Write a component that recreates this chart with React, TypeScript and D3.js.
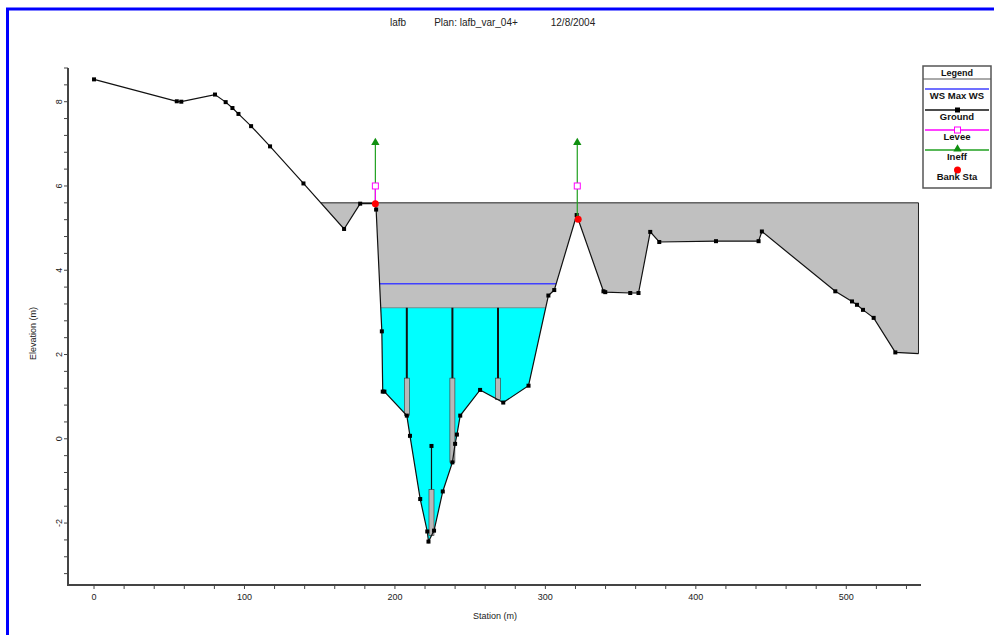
import React, { useEffect, useRef } from 'react';
import * as d3 from 'd3';

// ground survey points (station m, elevation m)
const groundStations = [0, 55, 58, 80.4, 87.5, 92, 96, 104.4, 117, 139.2, 166.2, 176.9, 187, 187.5, 191.3, 191.9, 193, 207.9, 210, 216.8, 221.5, 222.3, 226, 231.8, 238.2, 240, 241.2, 243.4, 256.6, 272, 288.8, 302, 305.9, 320.8, 338.6, 339.8, 356.4, 361.9, 369.7, 375.7, 413.4, 441.7, 443.9, 492.7, 503.8, 507.1, 511.1, 518.2, 532.6, 548];
const groundElevations = [8.53, 8.01, 8.0, 8.17, 7.99, 7.85, 7.71, 7.42, 6.94, 6.06, 4.98, 5.58, 5.58, 5.44, 2.55, 1.12, 1.12, 0.55, 0.07, -1.43, -2.2, -2.44, -2.18, -1.25, -0.56, -0.12, 0.1, 0.55, 1.16, 0.86, 1.26, 3.4, 3.53, 5.31, 3.5, 3.48, 3.46, 3.46, 4.91, 4.67, 4.69, 4.69, 4.92, 3.5, 3.26, 3.18, 3.06, 2.87, 2.05, 2.02];

const bankStations = [187, 321.8];
const leveeStations = [187, 321.2];
const leveeElevations = [6.0, 6.0];
const ineffStations = [187, 321.2];
const ineffElevations = [7.03, 7.03];

const grayLevel = 5.6;
const wsLevel = 3.11;
const maxWsLevel = 3.68;

// vertical subdivision lines inside the wetted area
const divStations = [207.9, 224.3, 238.2, 268.5];
const divTops = [3.11, -0.17, 3.11, 3.11];
const divBreaks = [1.44, -1.2, 1.44, 1.44];

const xTickLabels = [0, 100, 200, 300, 400, 500];
const yTickLabels = [-2, 0, 2, 4, 6, 8];
const xMinorTicks = d3.range(0, 549, 20);
const yMinorTicks = d3.range(-3.2, 8.81, 0.4);

const legendItems = ['WS Max WS', 'Ground', 'Levee', 'Ineff', 'Bank Sta'];

const font = 'Arial, "Liberation Sans", sans-serif';

const App: React.FC = () => {
  const width = 994;
  const height = 635;
  const svgRef = useRef<SVGSVGElement>(null);

  useEffect(() => {
    if (!svgRef.current) return;
    const svg = d3.select(svgRef.current);
    svg.selectAll('*').remove();

    const x = d3.scaleLinear().domain([-17.3, 549]).range([68, 920]);
    const y = d3.scaleLinear().domain([-3.47, 8.8]).range([585, 68]);

    const n = groundStations.length;
    const groundAt = (s: number) => {
      for (let i = 0; i < n - 1; i++) {
        const s1 = groundStations[i], s2 = groundStations[i + 1];
        if (s >= s1 && s <= s2) {
          if (s2 === s1) return groundElevations[i];
          return groundElevations[i] + (s - s1) / (s2 - s1) * (groundElevations[i + 1] - groundElevations[i]);
        }
      }
      return groundElevations[n - 1];
    };
    const crossAfter = (level: number, s0: number) => {
      for (let i = 0; i < n - 1; i++) {
        if (groundStations[i + 1] < s0) continue;
        const a = groundElevations[i] - level;
        const b = groundElevations[i + 1] - level;
        if (a * b < 0) {
          const s = groundStations[i] + (level - groundElevations[i]) / (groundElevations[i + 1] - groundElevations[i]) * (groundStations[i + 1] - groundStations[i]);
          if (s >= s0) return s;
        }
      }
      return groundStations[n - 1];
    };
    const pool = (level: number, s1: number, s2: number) => {
      const pts: [number, number][] = [[s1, level], [s2, level], [s2, Math.min(groundAt(s2), level)]];
      for (let i = n - 1; i >= 0; i--) {
        const s = groundStations[i];
        if (s > s1 && s < s2) pts.push([s, Math.min(groundElevations[i], level)]);
      }
      return pts;
    };

    const line = d3.line<[number, number]>().x(d => x(d[0])).y(d => y(d[1]));
    const closed = d3.line<[number, number]>().x(d => x(d[0])).y(d => y(d[1])).curve(d3.curveLinearClosed);

    svg.append('rect').attr('width', width).attr('height', height).attr('fill', 'white');

    // gray fill
    const g1 = crossAfter(grayLevel, 0);
    const g2 = groundStations[n - 1];
    svg.append('path').attr('d', closed(pool(grayLevel, g1, g2))).attr('fill', '#c0c0c0');

    // cyan water
    const w1 = crossAfter(wsLevel, bankStations[0]);
    const w2 = crossAfter(wsLevel, w1 + 0.5);
    svg.append('path').attr('d', closed(pool(wsLevel, w1, w2))).attr('fill', '#00ffff');
    svg.append('path').attr('d', line([[w1, wsLevel], [w2, wsLevel]])).attr('stroke', '#777').attr('stroke-width', 0.8).attr('fill', 'none');

    // subdivisions
    divStations.forEach((s, i) => {
      const gz = groundAt(s);
      svg.append('rect')
        .attr('x', x(s) - 2.5).attr('y', y(divBreaks[i]))
        .attr('width', 5).attr('height', y(gz) - y(divBreaks[i]))
        .attr('fill', '#b8b8b8').attr('stroke', '#333').attr('stroke-width', 0.6);
      svg.append('line')
        .attr('x1', x(s)).attr('x2', x(s))
        .attr('y1', y(divTops[i])).attr('y2', y(divBreaks[i]))
        .attr('stroke', '#111').attr('stroke-width', i === 1 ? 1.2 : 2);
      if (divTops[i] < wsLevel) {
        svg.append('rect').attr('x', x(s) - 2).attr('y', y(divTops[i]) - 2).attr('width', 4).attr('height', 4).attr('fill', '#000');
      }
    });

    // max WS
    const m1 = crossAfter(maxWsLevel, bankStations[0]);
    const m2 = crossAfter(maxWsLevel, m1 + 0.5);
    svg.append('path').attr('d', line([[m1, maxWsLevel], [m2, maxWsLevel]]))
      .attr('stroke', '#4040ff').attr('stroke-width', 1.5).attr('fill', 'none');

    // gray outline
    svg.append('path').attr('d', line([[g1, grayLevel], [g2, grayLevel], [g2, groundAt(g2)]]))
      .attr('stroke', '#222').attr('stroke-width', 1).attr('fill', 'none');

    // ground
    const ground: [number, number][] = groundStations.map((s, i) => [s, groundElevations[i]]);
    svg.append('path').attr('d', line(ground)).attr('stroke', '#111').attr('stroke-width', 1.2).attr('fill', 'none');
    ground.slice(0, n - 1).forEach(d => {
      svg.append('rect').attr('x', x(d[0]) - 2).attr('y', y(d[1]) - 2).attr('width', 4).attr('height', 4).attr('fill', '#000');
    });

    // ineffective + levee
    ineffStations.forEach((s, i) => {
      svg.append('line').attr('x1', x(s)).attr('x2', x(s))
        .attr('y1', y(ineffElevations[i])).attr('y2', y(groundAt(s)))
        .attr('stroke', '#20a020').attr('stroke-width', 1.2);
    });
    leveeStations.forEach((s, i) => {
      if (i === 0) {
        svg.append('line').attr('x1', x(s)).attr('x2', x(s))
          .attr('y1', y(leveeElevations[i])).attr('y2', y(groundAt(s)))
          .attr('stroke', '#ff00ff').attr('stroke-width', 1.2);
      }
      svg.append('rect').attr('x', x(s) - 3).attr('y', y(leveeElevations[i]) - 3).attr('width', 6).attr('height', 6)
        .attr('fill', 'white').attr('stroke', '#ff00ff').attr('stroke-width', 1);
    });
    const tri = d3.symbol().type(d3.symbolTriangle).size(30);
    ineffStations.forEach((s, i) => {
      svg.append('path').attr('d', tri()).attr('transform', `translate(${x(s)},${y(ineffElevations[i])})`).attr('fill', '#109010');
    });
    bankStations.forEach(s => {
      svg.append('circle').attr('cx', x(s)).attr('cy', y(groundAt(s))).attr('r', 3.5).attr('fill', '#ff0000');
    });

    // axes
    const axisColor = '#444';
    svg.append('line').attr('x1', 68).attr('x2', 68).attr('y1', y(8.8)).attr('y2', y(-3.47) + 1).attr('stroke', axisColor).attr('stroke-width', 2);
    svg.append('line').attr('x1', 67).attr('x2', 921).attr('y1', y(-3.47)).attr('y2', y(-3.47)).attr('stroke', axisColor).attr('stroke-width', 2);
    yMinorTicks.forEach(v => {
      svg.append('line').attr('x1', 64).attr('x2', 68).attr('y1', y(v)).attr('y2', y(v)).attr('stroke', axisColor).attr('stroke-width', 1);
    });
    xMinorTicks.forEach(v => {
      svg.append('line').attr('x1', x(v)).attr('x2', x(v)).attr('y1', 585).attr('y2', 589).attr('stroke', axisColor).attr('stroke-width', 1);
    });
    yTickLabels.forEach(v => {
      svg.append('text').attr('transform', `translate(62,${y(v)}) rotate(-90)`)
        .attr('text-anchor', 'middle').attr('font-size', 9).attr('font-family', font).attr('fill', '#222').text(String(v));
    });
    xTickLabels.forEach(v => {
      svg.append('text').attr('x', x(v)).attr('y', 600)
        .attr('text-anchor', 'middle').attr('font-size', 9).attr('font-family', font).attr('fill', '#222').text(String(v));
    });
    svg.append('text').attr('x', x(200) + 100).attr('y', 619).attr('text-anchor', 'middle')
      .attr('font-size', 9).attr('font-family', font).attr('fill', '#222').text('Station (m)');
    svg.append('text').attr('transform', `translate(36,${y(2.5)}) rotate(-90)`).attr('text-anchor', 'middle')
      .attr('font-size', 9).attr('font-family', font).attr('fill', '#222').text('Elevation (m)');

    // title
    [['lafb', 398], ['Plan: lafb_var_04+', 476], ['12/8/2004', 573]].forEach(([t, px]) => {
      svg.append('text').attr('x', px as number).attr('y', 26).attr('text-anchor', 'middle')
        .attr('font-size', 10).attr('font-family', font).attr('fill', '#222').text(t as string);
    });

    // legend
    const lg = svg.append('g');
    lg.append('rect').attr('x', 923).attr('y', 66).attr('width', 68).attr('height', 122)
      .attr('fill', 'white').attr('stroke', '#555').attr('stroke-width', 1.5);
    lg.append('line').attr('x1', 923).attr('x2', 991).attr('y1', 79).attr('y2', 79).attr('stroke', '#555');
    lg.append('text').attr('x', 957).attr('y', 76).attr('text-anchor', 'middle').attr('font-size', 9)
      .attr('font-weight', 'bold').attr('font-family', font).attr('fill', '#111').text('Legend');
    const rowY = [89, 110, 130, 150, 170];
    const rowColors = ['#4040ff', '#111', '#ff00ff', '#20a020', '#ff0000'];
    legendItems.forEach((t, i) => {
      const ly = rowY[i];
      if (i < 4) {
        lg.append('line').attr('x1', 925).attr('x2', 989).attr('y1', ly).attr('y2', ly).attr('stroke', rowColors[i]).attr('stroke-width', 1.3);
      }
      if (i === 1) lg.append('rect').attr('x', 955).attr('y', ly - 2.5).attr('width', 5).attr('height', 5).attr('fill', '#000');
      if (i === 2) lg.append('rect').attr('x', 954.5).attr('y', ly - 3).attr('width', 6).attr('height', 6).attr('fill', 'white').attr('stroke', '#ff00ff');
      if (i === 3) lg.append('path').attr('d', tri()).attr('transform', `translate(957.5,${ly - 1})`).attr('fill', '#109010');
      if (i === 4) lg.append('circle').attr('cx', 957.5).attr('cy', ly).attr('r', 3.5).attr('fill', '#ff0000');
      lg.append('text').attr('x', 957).attr('y', ly + 10).attr('text-anchor', 'middle').attr('font-size', 9.5)
        .attr('font-weight', 'bold').attr('font-family', font).attr('fill', '#111').text(t);
    });

    // blue frame
    svg.append('line').attr('x1', 6).attr('x2', width).attr('y1', 9).attr('y2', 9).attr('stroke', '#0000ff').attr('stroke-width', 3);
    svg.append('line').attr('x1', 7.5).attr('x2', 7.5).attr('y1', 8).attr('y2', height).attr('stroke', '#0000ff').attr('stroke-width', 3);
  }, [height, width]);

  return (
    <svg ref={svgRef} width={width} height={height} style={{ position: 'absolute', left: 0, top: 0 }} />
  );
};

export default App;
